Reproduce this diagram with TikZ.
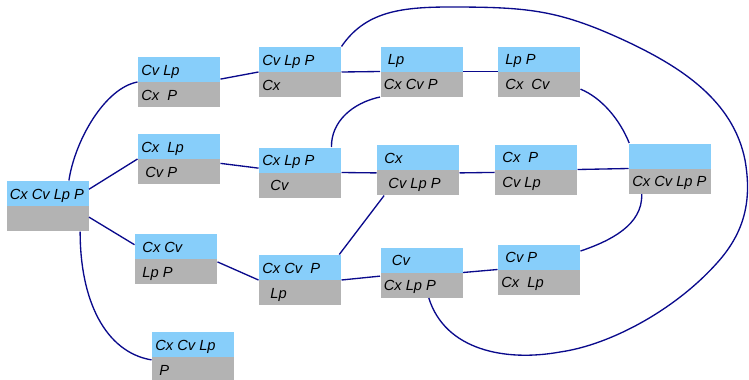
\documentclass[tikz,border=0pt]{standalone}
\usepackage{fontspec}
\setsansfont{Liberation Sans}
\usetikzlibrary{shapes.multipart}

\definecolor{boxblue}{RGB}{135,206,250}
\definecolor{boxgray}{RGB}{179,179,179}
\definecolor{linkblue}{RGB}{10,10,140}

% every row of a box is 18pt high
\newcommand{\rowstrut}{\rule[-4.75pt]{0pt}{18pt}}
\newcommand{\boxrows}[2]{\rowstrut#1\nodepart{two}\rowstrut#2}

\tikzset{every picture/.style={line width=0.75pt}}
\tikzset{
  statebox/.style={rectangle split, rectangle split parts=2,
    rectangle split part fill={boxblue,boxgray},
    rectangle split part align={left,left},
    rectangle split draw splits=false, draw=none,
    anchor=text split, inner xsep=2.5pt, inner ysep=0pt,
    minimum width=61.5pt,
    font=\sffamily\itshape\fontsize{11}{13}\selectfont},
  link/.style={color=linkblue, line width=1pt}
}

\begin{document}
\begin{tikzpicture}[x=0.75pt,y=0.75pt,yscale=-1,xscale=1]
\useasboundingbox (0,0) rectangle (749,379);

%Shape: Split boxes, top row of each = what is on, bottom row = what is off
\node[statebox] (root)   at (47.5,206)   {\boxrows{Cx Cv Lp P}{}};
\node[statebox] (cvlp)   at (179,82)     {\boxrows{Cv Lp}{Cx\ \ P}};
\node[statebox] (cxlp)   at (179,159)    {\boxrows{Cx\ \ Lp}{\ Cv P}};
\node[statebox] (cxcv)   at (176,259)    {\boxrows{\ Cx Cv}{\ Lp P}};
\node[statebox] (cxcvlp) at (193,357)    {\boxrows{Cx Cv Lp}{\ P}};
\node[statebox] (cvlpp)  at (300,72)     {\boxrows{Cv Lp P}{Cx}};
\node[statebox] (cxlpp)  at (300,172.5)  {\boxrows{Cx Lp P}{\ \ Cv}};
\node[statebox] (cxcvp)  at (300,280)    {\boxrows{Cx Cv\ \ P}{\ \ Lp}};
\node[statebox] (lp)     at (421.5,71.5) {\boxrows{\ Lp}{Cx Cv P}};
\node[statebox] (cx)     at (418,170)    {\boxrows{\ Cx}{\ \ Cv Lp P}};
\node[statebox] (cv)     at (421.5,272.5){\boxrows{\ \ Cv}{Cx Lp P}};
\node[statebox] (lpp)    at (539,71.5)   {\boxrows{\ Lp P}{\ Cx\ \ Cv}};
\node[statebox] (cxp)    at (536,169.5)  {\boxrows{\ Cx\ \ P}{\ Cv Lp}};
\node[statebox] (cvp)    at (539,269.5)  {\boxrows{\ Cv P}{Cx\ \ Lp}};
\node[statebox] (none)   at (670,168.5)  {\boxrows{}{Cx Cv Lp P}};

%Curve Lines
\draw[link] (root.50) .. controls (75,140) and (105,88) .. (cvlp.west);
%Straight Lines
\draw[link] (root.22) -- (cxlp.west);
\draw[link] (root.-15) -- (cxcv.161);
%Curve Lines
\draw[link] (root.-38) .. controls (80,300) and (105,352) .. (cxcvlp.184);

%Straight Lines
\draw[link] (cvlp.4) -- (cvlpp.west);
\draw[link] (cxlp.-6) -- (cxlpp.174);
\draw[link] (cxcv.-4) -- (cxcvp.west);
\draw[link] (cvlpp.east) -- (lp.west);
\draw[link] (cxlpp.east) -- (cx.184);
\draw[link] (cxcvp.33) -- (cx.217);
\draw[link] (cxcvp.east) -- (cv.185);
\draw[link] (lp.east) -- (lpp.west);
\draw[link] (cx.-4) -- (cxp.184);
\draw[link] (cv.east) -- (cvp.west);
\draw[link] (cxp.east) -- (none.west);

%Curve Lines
\draw[link] (cxlpp.39) .. controls (331,122) and (352,103) .. (lp.south west);
\draw[link] (lpp.-23) .. controls (602,98) and (620,120) .. (none.148);
\draw[link] (cvp.24) .. controls (610,241) and (643,225) .. (none.-138);

%Curve Lines: long way round the outside
\draw[link] (cvlpp.north east) .. controls (365,12) and (400,7) .. (450,7)
  .. controls (530,7) and (560,10) .. (630,43)
  .. controls (680,67) and (733,100) .. (745,160)
  .. controls (752,200) and (745,232) .. (717,263)
  .. controls (675,310) and (610,345) .. (560,352)
  .. controls (505,362) and (445,350) .. (cv.-74);
\end{tikzpicture}
\end{document}
